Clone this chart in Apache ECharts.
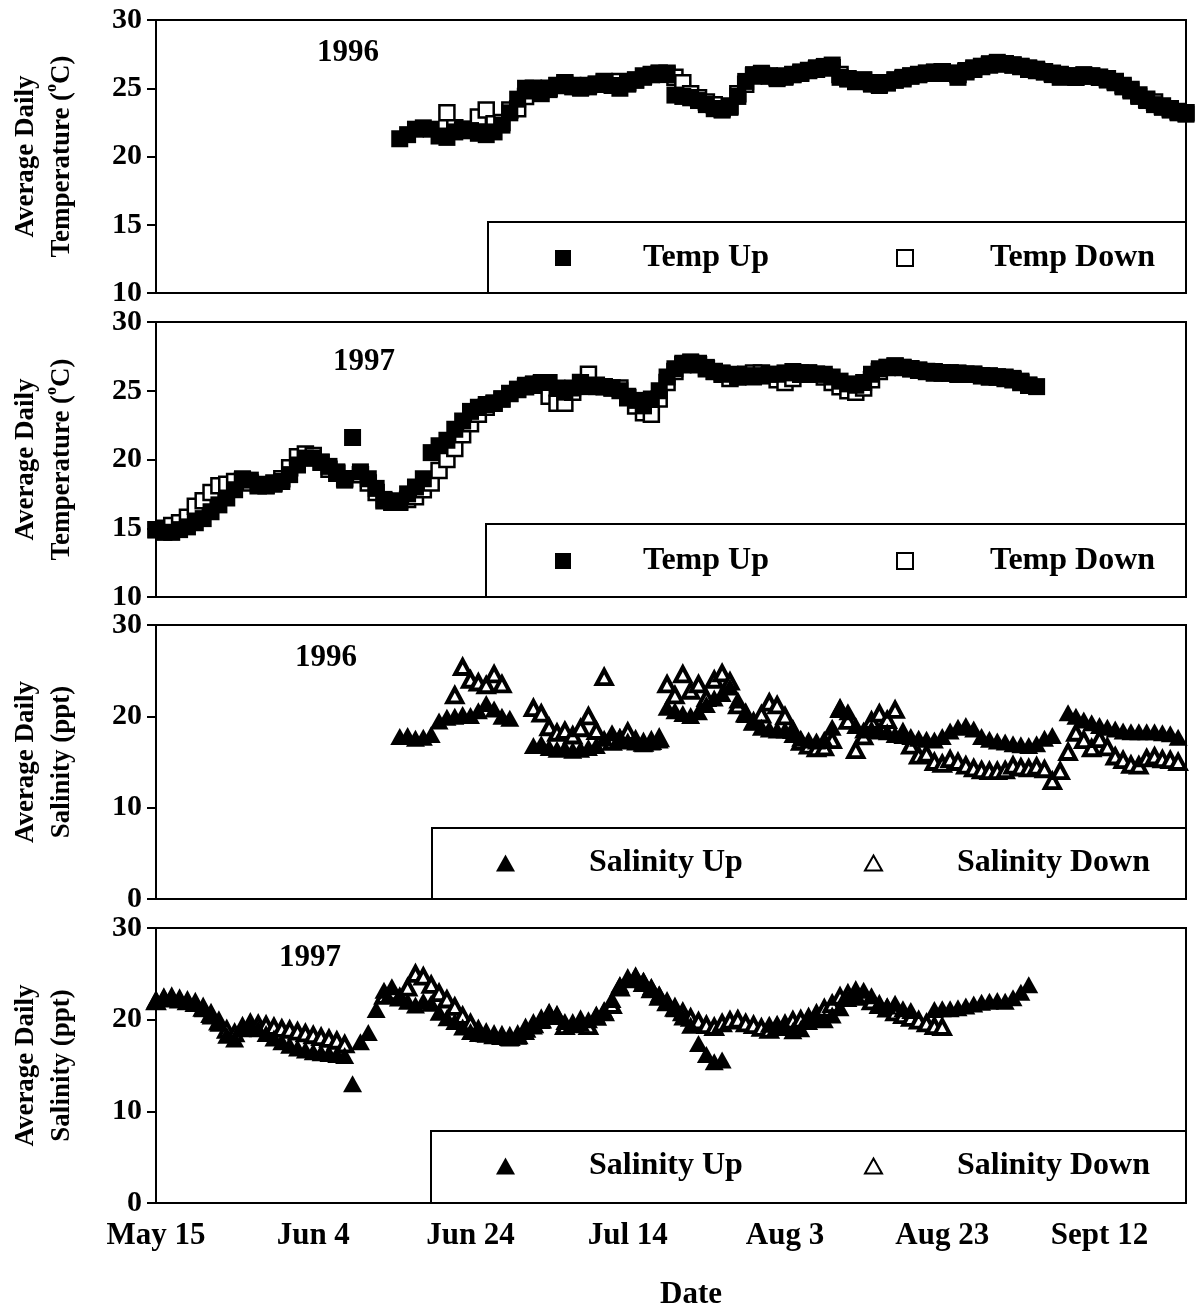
<!DOCTYPE html>
<html>
<head>
<meta charset="utf-8">
<script src="https://cdn.jsdelivr.net/npm/echarts@6/dist/echarts.min.js"></script>
<style>html,body{margin:0;padding:0;background:#fff}#c{width:1198px;height:1316px}</style>
</head>
<body>
<div id="c"></div>
<script>
// ---------- data (day index counted from May 15) ----------
const tickDays = [0, 20, 40, 60, 80, 100, 120];
const tickLabels = ['May 15', 'Jun 4', 'Jun 24', 'Jul 14', 'Aug 3', 'Aug 23', 'Sept 12'];
const yearLabels = ['1996', '1997', '1996', '1997'];

const temp96UpStart = 31;
const temp96Up = [21.3,21.6,22.0,22.1,22.0,21.5,21.4,21.8,22.0,21.9,21.7,21.6,21.8,22.3,23.2,24.2,25.0,24.8,24.6,24.9,25.2,25.3,25.1,25.0,25.1,25.3,25.4,25.2,25.0,25.3,25.6,25.8,26.0,26.1,26.0,24.5,24.4,24.3,24.1,23.8,23.5,23.4,23.6,24.4,25.5,26.0,26.1,25.9,25.7,25.8,26.0,26.2,26.3,26.5,26.6,26.7,25.8,25.7,25.5,25.6,25.3,25.2,25.4,25.6,25.8,25.9,26.0,26.1,26.2,26.2,26.1,25.8,26.3,26.5,26.6,26.8,26.9,26.8,26.7,26.6,26.5,26.4,26.2,26.0,25.8,25.9,25.9,26.0,25.9,25.8,25.6,25.4,25.1,24.8,24.4,24.1,23.8,23.6,23.4,23.2,23.1];
const temp96DownStart = 37;
const temp96Down = [23.2,22.1,21.9,22.0,22.9,23.4,22.4,22.5,23.4,23.5,24.4,25.0,24.9,25.0,25.2,25.4,25.2,25.1,25.2,25.3,25.5,25.3,25.5,25.4,25.6,25.9,26.0,26.1,26.1,25.8,25.4,24.6,24.3,24.0,23.8,23.5,23.7,24.6,25.3,25.9,26.0,25.9,25.8,25.9,26.0,26.1,26.3,26.4,26.5,26.5,26.0,25.7,25.5,25.6,25.4,25.3,25.4,25.6,25.7,25.9,26.0,26.1,26.1,26.2,26.1,26.0,26.2,26.4,26.6,26.7,26.8,26.8,26.7,26.6,26.4,26.3,26.2,26.1,26.0,25.9,25.8,25.9,25.9,25.8,25.7,25.5,25.2,24.9,24.5,24.2,24.0,23.7,23.5,23.3,23.2];

const temp97UpStart = 0;
const temp97Up = [14.9,14.7,14.7,14.9,15.1,15.4,15.7,16.2,16.7,17.2,17.8,18.6,18.5,18.2,18.1,18.2,18.4,18.9,19.6,20.1,20.1,19.8,19.5,19.1,18.5,21.6,19.1,18.6,17.9,17.1,16.9,17.0,17.5,18.0,18.6,20.5,21.0,21.4,22.2,22.8,23.5,23.8,24.0,24.1,24.4,24.8,25.1,25.4,25.5,25.6,25.6,25.2,24.9,25.2,25.6,25.3,25.3,25.3,25.2,25.0,24.6,24.3,23.9,24.4,25.0,26.0,26.6,27.0,27.1,27.0,26.7,26.4,26.3,26.2,26.1,26.1,26.0,26.1,26.2,26.2,26.3,26.4,26.3,26.3,26.2,26.2,26.0,25.7,25.5,25.4,25.6,26.2,26.6,26.7,26.8,26.7,26.6,26.5,26.4,26.4,26.3,26.3,26.3,26.2,26.2,26.1,26.1,26.0,26.0,25.9,25.7,25.4,25.3];
const temp97DownStart = 0;
const temp97Down = [14.9,15.0,15.2,15.4,15.8,16.6,17.0,17.6,18.1,18.2,18.4,18.5,18.3,18.1,18.1,18.3,18.6,19.4,20.2,20.4,20.3,19.8,19.3,19.0,18.6,null,18.9,18.3,17.6,17.0,16.9,16.9,17.1,17.3,17.8,18.3,19.2,20.0,20.8,21.8,22.6,23.3,23.8,24.1,24.4,24.8,25.1,25.3,25.4,25.5,24.6,24.1,24.1,24.9,25.6,26.2,25.4,25.3,25.2,25.2,24.5,23.9,23.4,23.3,24.4,25.6,26.4,26.9,27.0,26.9,26.6,26.4,26.2,25.9,26.0,26.2,26.3,26.3,26.1,25.8,25.6,25.9,26.2,26.3,26.2,26.0,25.6,25.3,25.0,24.9,25.2,25.8,26.4,26.7,26.8,26.7,26.6,26.5,26.4,26.3,26.3,26.3,26.2,26.2,26.2,26.1,26.0,26.0,25.9,25.8,25.6,25.4];

const sal96UpStart = 31;
const sal96Up = [17.8,17.9,17.6,17.7,18.0,19.5,19.9,20.0,20.2,20.1,20.6,21.4,20.8,20.0,19.8,null,null,16.8,17.0,16.6,16.4,16.5,16.3,16.4,16.6,16.8,17.6,18.2,17.8,17.3,17.2,17.0,17.2,17.4,21.0,20.6,20.3,20.1,20.5,21.3,22.0,22.5,23.2,21.8,20.2,19.4,18.8,18.6,18.5,18.5,18.0,17.6,17.4,17.3,17.5,18.8,21.0,20.5,19.0,18.5,18.6,18.4,18.3,18.0,17.9,17.8,17.6,17.5,17.4,17.8,18.4,18.8,19.0,18.6,17.8,17.5,17.3,17.2,17.0,16.9,16.8,17.0,17.6,17.9,null,20.4,20.0,19.6,19.3,19.0,18.8,18.6,18.4,18.3,18.3,18.3,18.3,18.2,18.1,17.7];
const sal96DownStart = 38;
const sal96Down = [22.3,25.4,24.0,23.7,23.4,24.6,23.5,null,null,null,20.9,20.3,18.8,18.2,18.4,17.9,18.7,20.0,18.4,24.3,17.2,17.5,18.3,17.4,17.1,17.3,17.6,23.5,22.3,24.6,22.8,23.5,22.0,24.0,24.7,23.8,21.2,20.3,19.4,20.2,21.5,21.2,20.0,18.5,17.2,16.8,16.5,16.6,17.4,20.8,19.5,16.3,17.8,19.5,20.3,19.6,20.7,18.2,16.8,15.7,15.9,15.0,14.8,15.3,15.0,14.6,14.3,14.1,14.0,14.0,14.1,14.6,14.4,14.3,14.5,14.2,12.9,14.0,16.1,18.2,17.4,16.5,17.5,16.6,15.6,15.2,14.7,14.6,15.4,15.6,15.3,15.2,15.0];

const sal97UpStart = 0;
const sal97Up = [22.2,22.5,22.4,22.3,22.1,21.9,21.2,20.4,19.6,18.3,17.9,19.0,19.3,19.0,18.5,18.0,17.6,17.2,16.9,16.7,16.5,16.4,16.3,16.2,16.1,13.0,17.6,18.6,21.1,23.2,23.6,22.6,22.0,21.6,22.0,21.8,20.8,20.2,19.8,19.2,18.7,18.5,18.4,18.3,18.2,18.0,18.2,18.7,19.3,19.9,20.8,20.6,19.8,19.5,19.6,20.0,20.5,21.0,22.2,23.8,24.5,24.8,24.3,23.6,22.8,22.0,21.2,20.3,19.4,17.4,16.2,15.4,15.6,null,null,null,null,null,19.5,19.6,19.3,18.8,19.0,19.8,20.2,20.0,20.5,21.3,22.3,22.8,23.2,22.6,21.7,21.5,21.8,21.2,21.0,null,null,21.1,21.2,21.2,21.3,21.5,21.7,21.9,22.0,22.1,22.0,22.4,23.0,23.8];
const sal97DownStart = 0;
const sal97Down = [22.0,22.3,22.4,22.2,22.0,21.8,21.3,20.6,19.8,18.9,18.5,19.2,19.6,19.5,19.4,19.2,19.0,18.9,18.7,18.5,18.3,18.1,17.9,17.7,17.3,null,null,null,null,22.6,23.0,22.4,23.5,25.0,24.7,23.8,22.9,22.2,21.4,20.4,19.6,18.9,18.5,18.3,18.2,18.1,18.3,19.0,19.5,20.0,20.6,20.4,19.3,19.5,19.9,19.3,20.3,20.8,21.6,23.5,24.4,24.6,24.0,23.3,22.5,21.9,21.3,20.8,20.2,19.8,19.4,19.2,19.6,19.9,20.0,19.6,19.4,19.1,18.9,19.2,19.5,19.9,20.0,20.2,20.6,21.2,21.7,22.5,22.8,23.1,22.5,22.0,21.6,21.2,20.8,20.5,20.2,19.9,19.6,19.3,19.2];

// ---------- helpers ----------
function pts(start, vals) {
  const out = [];
  vals.forEach((v, i) => { if (v !== null) out.push([start + i, v]); });
  return out;
}
const FONT = 'Liberation Serif';
const GRIDS = [
  { left: 153, width: 1033, top: 20, height: 273 },
  { left: 153, width: 1033, top: 322, height: 275 },
  { left: 153, width: 1033, top: 625, height: 274 },
  { left: 153, width: 1033, top: 928, height: 275 }
];

const chart = echarts.init(document.getElementById('c'), null, { renderer: 'canvas' });

const xAxes = GRIDS.map((g, i) => ({
  type: 'value', gridIndex: i, min: 0, max: 131, interval: 20,
  axisLine: { show: true, onZero: false, lineStyle: { color: '#000', width: 2 } },
  axisTick: { show: false },
  splitLine: { show: false },
  axisLabel: {
    show: i === 3, margin: 17,
    fontFamily: FONT, fontWeight: 'bold', fontSize: 31, color: '#000',
    formatter: v => { const k = tickDays.indexOf(v); return k >= 0 ? tickLabels[k] : ''; }
  },
  name: i === 3 ? 'Date' : '', nameLocation: 'middle', nameGap: 76,
  nameTextStyle: { fontFamily: FONT, fontWeight: 'bold', fontSize: 31, color: '#000', padding: [0, 0, 0, 40] }
}));

const richName = {
  n: { fontFamily: FONT, fontWeight: 'bold', fontSize: 27, lineHeight: 36, color: '#000' },
  s: { fontFamily: FONT, fontWeight: 'bold', fontSize: 16, lineHeight: 36, verticalAlign: 'top', padding: [0, 0, 14, 0], color: '#000' }
};
const yAxes = GRIDS.map((g, i) => {
  const temp = i < 2;
  return {
    type: 'value', gridIndex: i,
    min: temp ? 10 : 0, max: 30, interval: temp ? 5 : 10,
    axisLine: { show: true, lineStyle: { color: '#000', width: 2 } },
    axisTick: { show: true, inside: false, length: 9, lineStyle: { color: '#000', width: 2 } },
    splitLine: { show: false },
    axisLabel: { margin: 14, fontFamily: FONT, fontWeight: 'bold', fontSize: 30, color: '#000' },
    name: temp ? '{n|Average Daily}\n{n|Temperature (}{s|o}{n|C)}' : '{n|Average Daily}\n{n|Salinity (ppt)}',
    nameLocation: 'middle', nameRotate: 90, nameGap: 76,
    nameTextStyle: { fontFamily: FONT, fontWeight: 'bold', fontSize: 27, lineHeight: 36, color: '#000', rich: richName }
  };
});

const filledSq = { color: '#000', opacity: 1 };
const openSq = { color: '#fff', borderColor: '#000', borderWidth: 2.5, opacity: 1 };
const filledTri = { color: '#000', opacity: 1 };
const openTri = { color: '#fff', borderColor: '#000', borderWidth: 4, opacity: 1 };

function sc(name, idx, data, symbol, size, style, z) {
  return { type: 'scatter', name, xAxisIndex: idx, yAxisIndex: idx, data, symbol, symbolSize: size,
           itemStyle: style, z, silent: true, animation: false };
}
const series = [
  sc('Temp Down', 0, pts(temp96DownStart, temp96Down), 'rect', 15, openSq, 2),
  sc('Temp Up', 0, pts(temp96UpStart, temp96Up), 'rect', 17, filledSq, 3),
  sc('Temp Down', 1, pts(temp97DownStart, temp97Down), 'rect', 15, openSq, 2),
  sc('Temp Up', 1, pts(temp97UpStart, temp97Up), 'rect', 17, filledSq, 3),
  sc('Salinity Down', 2, pts(sal96DownStart, sal96Down), 'triangle', [15, 14], openTri, 2),
  sc('Salinity Up', 2, pts(sal96UpStart, sal96Up), 'triangle', [19, 17], filledTri, 3),
  sc('Salinity Down', 3, pts(sal97DownStart, sal97Down), 'triangle', [15, 14], openTri, 2),
  sc('Salinity Up', 3, pts(sal97UpStart, sal97Up), 'triangle', [19, 17], filledTri, 3)
];

function leg(name, left, top, gap, w, h) {
  return {
    data: [name], left, top, padding: 0, orient: 'horizontal', selectedMode: false,
    itemWidth: w, itemHeight: h, itemGap: 0,
    formatter: n => '{g|}' + n,
    textStyle: { fontFamily: FONT, fontWeight: 'bold', fontSize: 32, color: '#000', lineHeight: 34,
                 rich: { g: { width: gap } } }
  };
}
const legends = [
  leg('Temp Up', 555, 241, 67, 16, 16), leg('Temp Down', 896, 241, 72, 16, 16),
  leg('Temp Up', 555, 544, 67, 16, 16), leg('Temp Down', 896, 544, 72, 16, 16),
  leg('Salinity Up', 496, 846, 69, 19, 17), leg('Salinity Down', 864, 846, 70, 17, 15),
  leg('Salinity Up', 496, 1149, 69, 19, 17), leg('Salinity Down', 864, 1149, 70, 17, 15)
];

const boxes = [
  { x: 488, y: 222, w: 698, h: 71 },
  { x: 486, y: 524, w: 700, h: 73 },
  { x: 432, y: 828, w: 754, h: 71 },
  { x: 431, y: 1131, w: 755, h: 72 }
];
const yearPos = [[348, 53], [364, 362], [326, 658], [310, 958]];
const graphic = [];
boxes.forEach(b => graphic.push({ type: 'rect', shape: { x: b.x, y: b.y, width: b.w, height: b.h },
  style: { fill: '#fff', stroke: '#000', lineWidth: 2 }, z: 1 }));
yearLabels.forEach((t, i) => graphic.push({ type: 'text', x: yearPos[i][0], y: yearPos[i][1],
  style: { text: t, fontFamily: FONT, fontWeight: 'bold', fontSize: 31, fill: '#000', textAlign: 'center', textVerticalAlign: 'middle' }, z: 5 }));

chart.setOption({
  animation: false,
  backgroundColor: '#fff',
  grid: GRIDS.map(g => Object.assign({ show: true, borderColor: '#000', borderWidth: 2, backgroundColor: 'transparent' }, g)),
  xAxis: xAxes,
  yAxis: yAxes,
  legend: legends,
  graphic,
  series
});
</script>
</body>
</html>
